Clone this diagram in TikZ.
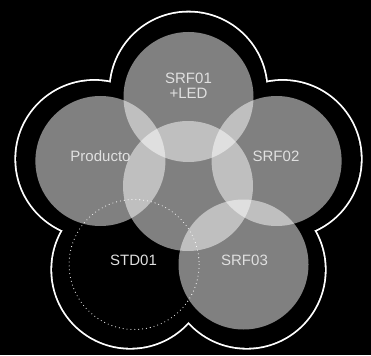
\documentclass[tikz,border=0pt]{standalone}
\usepackage{fontspec}
\setmainfont{Liberation Sans}
\begin{document}
\begin{tikzpicture}[x=1pt,y=-1pt,
  petal/.style={fill=white,fill opacity=0.5},
  lbl/.style={anchor=base,text=white!88!black,inner sep=0pt,font=\fontsize{15}{15}\selectfont}]
\fill[black] (0,0) rectangle (371,355);
\useasboundingbox (0,0) rectangle (371,355);
% outline centres
\coordinate (oc) at (188.5,189.6);
\coordinate (o1) at (188.5,90.6);
\coordinate (o2) at (94.3,159.0);
\coordinate (o3) at (282.7,159.0);
\coordinate (o4) at (130.3,269.7);
\coordinate (o5) at (246.7,269.7);
% flower outline (union of circles)
\foreach \c in {o1,o2,o3,o4,o5} \fill[white] (\c) circle[radius=79.9];
\foreach \c in {o1,o2,o3,o4,o5} \fill[black] (\c) circle[radius=78.1];
\fill[black] (oc) circle[radius=110];
% circle centres
\coordinate (top) at (188.5,97);
\coordinate (left) at (100.4,161);
\coordinate (right) at (276.6,161);
\coordinate (mid) at (188,186);
\coordinate (bl) at (134.1,264.5);
\coordinate (br) at (243.5,264.5);
\fill[petal] (top) circle[radius=65];
\fill[petal] (left) circle[radius=65];
\fill[petal] (right) circle[radius=65];
\fill[petal] (mid) circle[radius=65];
\fill[petal] (br) circle[radius=65];
\draw[white,line width=1.1pt,line cap=round,dash pattern=on 0pt off 3.9pt] (bl) circle[radius=65];
% labels
\node[lbl] (srf01) at (188.5,83.5) {SRF01};
\node[lbl] (led) at (188.5,98.5) {+LED};
\node[lbl] (producto) at (100.5,161) {Producto};
\node[lbl] (srf02) at (276,161) {SRF02};
\node[lbl] (std01) at (133.5,265.5) {STD01};
\node[lbl] (srf03) at (244.5,265.5) {SRF03};
\end{tikzpicture}
\end{document}
